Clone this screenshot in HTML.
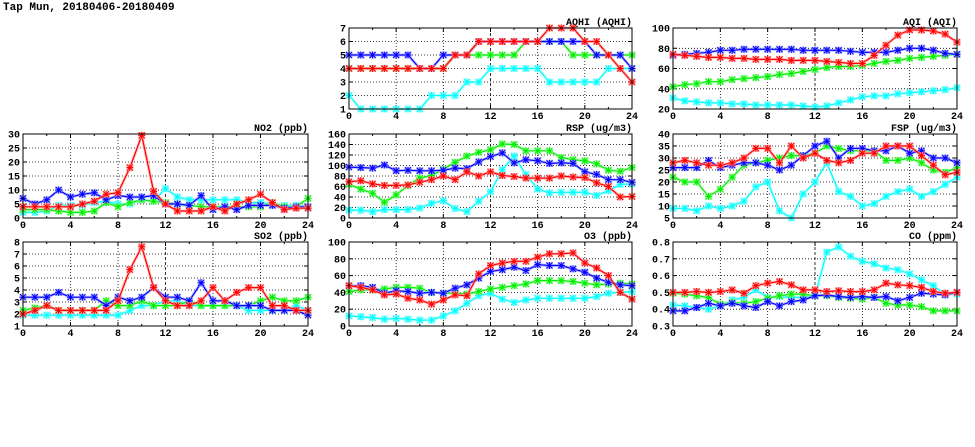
<!DOCTYPE html>
<html><head><meta charset="utf-8"><style>
body{margin:0;background:#fff;}
svg{display:block}
text{font-family:"Liberation Mono",monospace;font-weight:bold;font-size:10px;fill:#000}
</style></head><body>
<svg id="s" width="975" height="447" xmlns="http://www.w3.org/2000/svg">
<text x="3" y="10" style="font-size:11px">Tap Mun, 20180406-20180409</text>
</svg>
<script>
const S=document.getElementById('s');let h='';
const C={r:'#ff0000',b:'#0000ff',g:'#00ee00',c:'#00ffff'};
const L={r:'#ff9999',b:'#9999ff',g:'#99ff99',c:'#99ffff'};
function panel(x0,x1,y0,y1,ymin,ymax,step,title,data,fmt){
 const X=t=>x0+(x1-x0)*t/24, Y=v=>y1-(y1-y0)*(v-ymin)/(ymax-ymin);
 // grid
 for(let v=ymin+step;v<ymax-1e-9;v+=step){const y=Y(v).toFixed(1);h+=`<line x1="${x0}" x2="${x1}" y1="${y}" y2="${y}" stroke="#000" stroke-width="0.8" stroke-dasharray="1,2"/>`;}
 for(let t=4;t<24;t+=4){h+=`<line x1="${X(t)}" x2="${X(t)}" y1="${y0}" y2="${y1}" stroke="#000" stroke-width="0.8" stroke-dasharray="${t==12?'3,2':'1,2'}"/>`;}
 // ticks
 for(let v=ymin;v<=ymax+1e-9;v+=step){const y=Y(v);h+=`<line x1="${x0}" x2="${x0+4}" y1="${y}" y2="${y}" stroke="#000"/><line x1="${x1}" x2="${x1-4}" y1="${y}" y2="${y}" stroke="#000"/>`;
  h+=`<text x="${x0-3}" y="${y+3.5}" text-anchor="end">${fmt?v.toFixed(1):Math.round(v)}</text>`;}
 for(let t=0;t<=24;t+=2){const l=t%4?2:4;h+=`<line x1="${X(t)}" x2="${X(t)}" y1="${y1}" y2="${y1-l}" stroke="#000"/><line x1="${X(t)}" x2="${X(t)}" y1="${y0}" y2="${y0+l}" stroke="#000"/>`;
  if(t%4==0)h+=`<text x="${X(t)}" y="${y1+10}" text-anchor="middle">${t}</text>`;}
 h+=`<text x="${x1}" y="${y0-3}" text-anchor="end">${title}</text>`;
 for(const k of ['c','g','b','r']){const d=data[k];if(!d)continue;
  let p=d.map((v,i)=>X(i).toFixed(1)+','+Y(Math.max(ymin,Math.min(ymax,v))).toFixed(1)).join(' ');
  h+=`<polyline points="${p}" fill="none" stroke="${L[k]}" stroke-width="3" opacity="0.6"/>`;
  h+=`<polyline points="${p}" fill="none" stroke="${C[k]}" stroke-width="1.2"/>`;
  d.forEach((v,i)=>{const x=X(i),y=Y(Math.max(ymin,Math.min(ymax,v)));
   h+=`<rect x="${x-3.5}" y="${y-3.5}" width="7" height="7" fill="${L[k]}" opacity="0.7"/><path d="M${x-3} ${y-3}L${x+3} ${y+3}M${x-3} ${y+3}L${x+3} ${y-3}M${x-3.5} ${y}H${x+3.5}M${x} ${y-3.5}V${y+3.5}" stroke="${C[k]}" stroke-width="1"/>`;});
 }
 h+=`<rect x="${x0}" y="${y0}" width="${x1-x0}" height="${y1-y0}" fill="none" stroke="#000" stroke-width="1"/>`;
}
panel(349,632,28,109,1,7,1,'AQHI (AQHI)',{
r:[4,4,4,4,4,4,4,4,4,5,5,6,6,6,6,6,6,7,7,7,6,6,5,4,3],
b:[5,5,5,5,5,5,4,4,5,5,5,6,6,6,6,6,6,6,6,6,6,5,5,5,4],
g:[4,4,4,4,4,4,4,4,4,5,5,5,5,5,5,6,6,6,6,5,5,5,5,5,5],
c:[2,1,1,1,1,1,1,2,2,2,3,3,4,4,4,4,4,3,3,3,3,3,4,4,4]});
panel(673,957,28,109,20,100,20,'AQI (AQI)',{
r:[74,73,72,71,71,70,70,69,69,69,68,68,68,67,66,65,65,73,83,93,98,98,97,94,86],
b:[73,74,75,76,78,78,79,79,79,79,79,78,78,78,78,77,76,76,76,78,80,80,78,75,74],
g:[42,44,45,47,47,49,50,51,52,54,55,57,59,61,62,62,63,65,67,68,70,71,72,73,74],
c:[31,28,27,26,26,25,25,24,24,24,24,23,22,23,26,29,32,33,33,35,36,37,38,39,41]});
panel(23,308,134,218,0,30,5,'NO2 (ppb)',{
r:[4,4,4,4,4,5,6,8.5,9,18,29.5,9.5,5,2.5,2.5,2.5,4,2.5,5,6.5,8.5,5.5,3,3.5,3.5],
b:[7,5,6.5,10,7.5,8.5,9,6.5,8,7.5,7.5,8,5,5,4.5,8,3,4,3,4.5,4.5,4.5,3.5,4,4],
g:[3,3,3,2.5,2,2,2.5,5.5,4,5.5,6.5,6,5.5,5,4.5,4,4,4,4,4,4,5.5,4,4,7],
c:[2,2,2.5,4.5,4.5,4.5,5.5,6,5,5,6.5,6,10.5,7.5,6.5,6.5,6.5,6.5,6.5,5.5,5.5,5,4.5,4.5,4]});
panel(349,632,134,218,0,160,20,'RSP (ug/m3)',{
r:[69,71,65,62,62,63,68,73,80,73,88,80,88,81,79,76,76,76,80,78,77,67,60,40,41],
b:[97,96,95,101,90,91,90,90,91,95,94,107,117,124,105,111,109,104,105,104,88,83,73,73,68],
g:[64,55,47,30,44,62,76,81,93,106,118,125,130,141,140,128,128,128,115,111,109,103,91,89,96],
c:[15,15,12,16,16,16,19,28,33,18,12,32,50,92,118,83,55,48,49,49,49,43,52,64,65]});
panel(673,957,134,218,5,40,5,'FSP (ug/m3)',{
r:[28,29,28,27,27,28,30,34,34,28,35,30,32,29,28,29,32,32,35,35,35,31,27,23,24],
b:[26,26,26,29,26,27,28,28,27,25,27,31,35,37,30,34,34,33,33,35,32,33,30,30,28],
g:[22,20,20,14,17,22,27,28,29,30,31,31,32,35,34,33,33,33,29,29,30,28,25,24,26],
c:[9,9,8,10,9,10,12,18,20,8,5,15,20,28,16,14,10,11,14,16,17,14,16,19,22]});
panel(23,308,242,326,1,8,1,'SO2 (ppb)',{
r:[2,2.3,2.7,2.3,2.3,2.3,2.3,2.3,3.1,5.7,7.6,4.2,3.1,2.7,2.7,3.1,4.2,3.1,3.8,4.2,4.2,2.7,2.7,2.3,2.3],
b:[3.4,3.4,3.4,3.8,3.4,3.4,3.4,2.7,3.4,3.1,3.4,4.2,3.4,3.4,3.1,4.6,3.1,3.1,2.7,2.7,2.7,2.3,2.3,2.3,1.9],
g:[2.3,2.5,2.7,2.3,2.3,2.3,2.3,3.1,2.7,2.7,3.1,2.7,2.7,2.7,3.1,2.7,2.7,2.7,2.7,2.7,3.1,3.4,3.1,3.1,3.4],
c:[1.9,1.9,1.9,1.9,1.9,1.9,1.9,1.9,1.9,2.3,2.7,2.7,3.1,3.1,2.7,2.7,2.7,2.7,2.7,2.3,2.3,2.3,2.3,2.7,2.3]});
panel(349,632,242,326,0,100,20,'O3 (ppb)',{
r:[48,46,43,37,38,33,31,26,31,37,36,62,72,75,77,77,82,86,86,87,75,69,60,40,32],
b:[48,48,46,39,42,41,39,40,39,45,49,57,65,67,70,66,73,72,72,68,64,57,52,49,48],
g:[41,43,43,44,46,46,45,40,39,39,38,41,44,46,48,50,54,54,54,53,51,49,50,51,50],
c:[12,11,10,8,9,8,7,7,12,18,27,36,39,32,28,31,33,33,33,33,33,35,39,40,41]});
panel(673,957,242,326,0.3,0.8,0.1,'CO (ppm)',{
r:[.50,.50,.505,.50,.505,.515,.495,.54,.555,.565,.545,.515,.515,.505,.51,.505,.505,.515,.555,.545,.54,.53,.505,.495,.50],
b:[.39,.39,.41,.435,.42,.435,.42,.41,.445,.42,.445,.455,.48,.485,.475,.47,.475,.47,.475,.45,.47,.495,.49,.485,.50],
g:[.495,.49,.48,.47,.43,.44,.435,.445,.465,.48,.49,.49,.48,.48,.47,.465,.46,.47,.435,.425,.425,.415,.39,.39,.39],
c:[.425,.42,.41,.40,.42,.455,.47,.515,.47,.475,.47,.47,.48,.74,.77,.715,.685,.67,.645,.635,.61,.575,.54,.49,.49]},true);
S.insertAdjacentHTML('beforeend',h);
</script>
</body></html>
